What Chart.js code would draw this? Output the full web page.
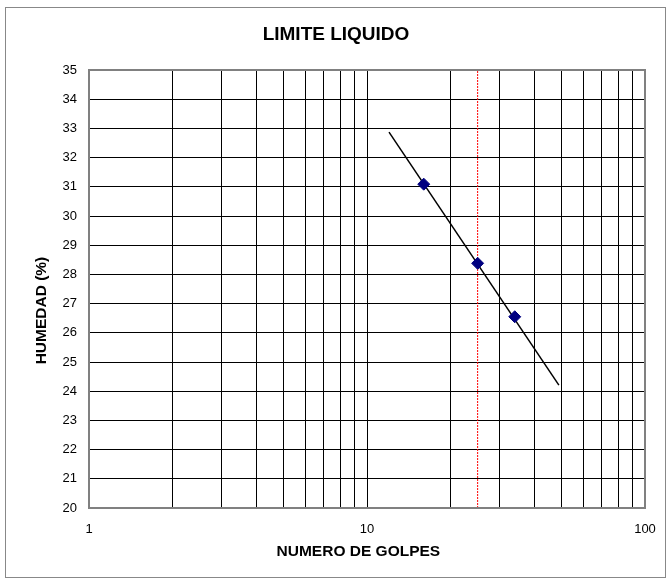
<!DOCTYPE html>
<html>
<head>
<meta charset="utf-8">
<script src="https://cdn.jsdelivr.net/npm/chart.js@4"></script>
<style>
  html, body { margin: 0; padding: 0; background: #fff; }
  #wrap { position: relative; width: 672px; height: 583px; }
  #frame { position: absolute; left: 5px; top: 7px; width: 661px; height: 571px; border: 1px solid #888; box-sizing: border-box; pointer-events: none; }
  canvas { position: absolute; left: 0; top: 0; }
</style>
</head>
<body>
<div id="wrap">
  <canvas id="chart" width="672" height="583"></canvas>
  <div id="frame"></div>
</div>
<script>
// ensayo de limite liquido
const golpes = [16, 25, 34];
const humedad = [31.09, 28.38, 26.55];

// recta de ajuste
const trendGolpes = [12, 49];
const trendHumedad = [32.87, 24.21];

// linea de 25 golpes
const refGolpes = [25, 25];
const refHumedad = [20, 35];

const xGrid = [1, 2, 3, 4, 5, 6, 7, 8, 9, 10, 20, 30, 40, 50, 60, 70, 80, 90, 100];
const xLabels = ['1', '10', '100'];

const FONT = 'Arial, "Liberation Sans", sans-serif';

function pts(xs, ys) {
  return xs.map((x, i) => ({ x, y: ys[i] }));
}

const areaBorder = {
  id: 'areaBorder',
  afterDatasetsDraw(chart) {
    const { ctx, chartArea: a } = chart;
    ctx.save();
    ctx.strokeStyle = '#808080';
    ctx.lineWidth = 2;
    ctx.strokeRect(a.left, a.top, a.right - a.left, a.bottom - a.top);
    ctx.restore();
  }
};

new Chart(document.getElementById('chart'), {
  type: 'scatter',
  data: {
    datasets: [
      {
        label: 'Humedad',
        data: pts(golpes, humedad),
        pointStyle: 'rectRot',
        pointRadius: 6,
        backgroundColor: '#000080',
        borderColor: '#000080',
        borderWidth: 1
      },
      {
        label: 'Ajuste',
        data: pts(trendGolpes, trendHumedad),
        showLine: true,
        borderColor: '#000',
        borderWidth: 1.5,
        pointRadius: 0
      },
      {
        label: '25 golpes',
        data: pts(refGolpes, refHumedad),
        showLine: true,
        borderColor: '#ff0000',
        borderWidth: 1,
        borderDash: [2, 1],
        pointRadius: 0
      }
    ]
  },
  options: {
    responsive: false,
    animation: false,
    devicePixelRatio: 1,
    layout: { padding: { top: 0, right: 27, bottom: 0, left: 27 } },
    plugins: {
      legend: { display: false },
      tooltip: { enabled: false },
      title: {
        display: true,
        text: 'LIMITE LIQUIDO',
        color: '#000',
        font: { family: FONT, size: 19, weight: 'bold' },
        padding: { top: 23.6, bottom: 23.6 }
      }
    },
    scales: {
      x: {
        type: 'logarithmic',
        min: 1,
        max: 100,
        afterBuildTicks(scale) { scale.ticks = xGrid.map(v => ({ value: v })); },
        afterFit(scale) { scale.height = 75; },
        ticks: {
          autoSkip: false,
          maxRotation: 0,
          padding: 14,
          color: '#000',
          font: { family: FONT, size: 13 },
          callback: v => xLabels.includes(String(v)) ? String(v) : ''
        },
        grid: { color: '#000', lineWidth: 1, drawTicks: false },
        border: { display: false },
        title: {
          display: true,
          text: 'NUMERO DE GOLPES    ',
          color: '#000',
          font: { family: FONT, size: 15.5, weight: 'bold' },
          padding: { top: 0, bottom: 21.7 }
        }
      },
      y: {
        min: 20,
        max: 35,
        afterFit(scale) { scale.width = 62; },
        ticks: {
          stepSize: 1,
          padding: 12,
          color: '#000',
          font: { family: FONT, size: 13 }
        },
        grid: { color: '#000', lineWidth: 1, drawTicks: false },
        border: { display: false },
        title: {
          display: true,
          text: 'HUMEDAD (%)          ',
          color: '#000',
          font: { family: FONT, size: 15.5, weight: 'bold' },
          padding: { top: 5.6, bottom: 0 }
        }
      }
    }
  },
  plugins: [areaBorder]
});
</script>
</body>
</html>
